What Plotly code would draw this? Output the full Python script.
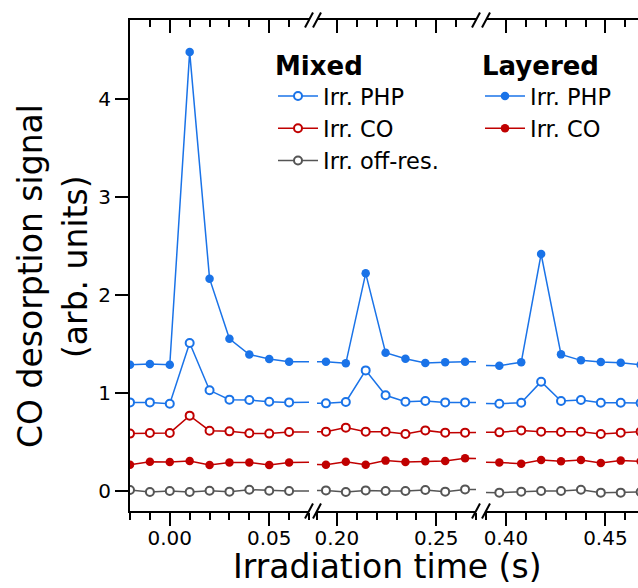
import plotly.graph_objects as go

# ---- data ----
time_seg1 = [-0.02, -0.01, 0.00, 0.01, 0.02, 0.03, 0.04, 0.05, 0.06]
time_seg2 = [0.1945, 0.2045, 0.2145, 0.2245, 0.2345, 0.2445, 0.2545, 0.2645]
time_seg3 = [0.3967, 0.4077, 0.4177, 0.4277, 0.4377, 0.4477, 0.4577, 0.4677]

mixed_php = [0.906, 0.906, 0.893, 1.511, 1.029, 0.934, 0.930, 0.913, 0.906,
             0.896, 0.910, 1.232, 0.978, 0.913, 0.920, 0.906, 0.906,
             0.893, 0.903, 1.117, 0.920, 0.930, 0.903, 0.903, 0.900]
mixed_co = [0.588, 0.595, 0.595, 0.771, 0.618, 0.611, 0.591, 0.588, 0.605,
            0.608, 0.649, 0.608, 0.608, 0.584, 0.621, 0.598, 0.598,
            0.601, 0.621, 0.608, 0.605, 0.608, 0.584, 0.598, 0.608]
mixed_offres = [0.014, -0.006, 0.004, -0.006, 0.007, -0.003, 0.017, 0.007, 0.004,
                0.010, -0.006, 0.010, 0.004, 0.004, 0.014, -0.003, 0.020,
                -0.013, -0.003, 0.004, 0.004, 0.017, -0.013, -0.013, -0.006]
layered_php = [1.290, 1.297, 1.290, 4.475, 2.166, 1.553, 1.394, 1.347, 1.320,
               1.321, 1.304, 2.220, 1.412, 1.351, 1.307, 1.314, 1.321,
               1.280, 1.314, 2.417, 1.395, 1.334, 1.317, 1.310, 1.290]
layered_co = [0.272, 0.302, 0.299, 0.309, 0.269, 0.295, 0.295, 0.269, 0.295,
              0.272, 0.302, 0.272, 0.313, 0.299, 0.306, 0.309, 0.336,
              0.295, 0.282, 0.320, 0.306, 0.320, 0.289, 0.313, 0.306]

x_ranges = [[-0.02, 0.07], [0.19, 0.27], [0.39, 0.46638]]
y_range = [-0.2, 4.8]
y_ticks = [0, 1, 2, 3, 4]

BLUE = "#1a73e8"
RED = "#c00000"
GRAY = "#555555"
FONT = "DejaVu Sans"

# ---- layout geometry ----
W, H = 638, 588
L, R, T, B = 130, 0, 20, 77
PW = W - L - R
PH = H - T - B


def px(x):
    return (x - L) / PW


def py(y):
    return (H - B - y) / PH


domains = [[0.0, px(309)], [px(317), px(476)], [px(486), 1.0]]

time_all = time_seg1 + time_seg2 + time_seg3

series = [
    # name, values, color, open, legend
    ("Irr. PHP", mixed_php, BLUE, True, "legend"),
    ("Irr. CO", mixed_co, RED, True, "legend"),
    ("Irr. off-res.", mixed_offres, GRAY, True, "legend"),
    ("Irr. PHP", layered_php, BLUE, False, "legend2"),
    ("Irr. CO", layered_co, RED, False, "legend2"),
]

fig = go.Figure()
axis_ids = ["x", "x2", "x3"]
top_ids = ["x4", "x5", "x6"]

# empty traces so the top (inward-tick) axes get drawn
for ax in top_ids:
    fig.add_trace(go.Scatter(x=[], y=[], xaxis=ax, yaxis="y",
                             showlegend=False, hoverinfo="skip"))

for name, vals, color, is_open, leg in series:
    for k, ax in enumerate(axis_ids):
        if is_open:
            marker = dict(symbol="circle", size=8, color="white",
                          line=dict(color=color, width=2))
        else:
            marker = dict(symbol="circle", size=8.5, color=color,
                          line=dict(width=0))
        fig.add_trace(go.Scatter(
            x=time_all, y=vals, mode="lines+markers", name=name,
            line=dict(color=color, width=1.5), marker=marker,
            xaxis=ax, yaxis="y", legend=leg, showlegend=(k == 0),
        ))

tick_common = dict(
    showline=True, linecolor="black", linewidth=2,
    ticks="outside", ticklen=13, tickwidth=2, tickcolor="black",
    tickfont=dict(family=FONT, size=20, color="black"),
    showgrid=False, zeroline=False,
)

layout_axes = {}
for k in range(3):
    key = "xaxis" if k == 0 else f"xaxis{k + 1}"
    layout_axes[key] = dict(
        tick_common, domain=domains[k], range=x_ranges[k], anchor="y",
        tick0=0, dtick=0.05, tickformat=".2f", ticklabelstandoff=-5,
        minor=dict(ticks="outside", ticklen=7, tickwidth=2, tickcolor="black",
                   tick0=0, dtick=0.01, showgrid=False),
    )
    # top axis copy with inward ticks
    topkey = f"xaxis{k + 4}"
    layout_axes[topkey] = dict(
        showline=True, linecolor="black", linewidth=2,
        ticks="inside", ticklen=13, tickwidth=2, tickcolor="black",
        showticklabels=False, showgrid=False, zeroline=False,
        overlaying=axis_ids[k], side="top", anchor="y",
        range=x_ranges[k], tick0=0, dtick=0.05,
        minor=dict(ticks="inside", ticklen=7, tickwidth=2, tickcolor="black",
                   tick0=0, dtick=0.01, showgrid=False),
    )

layout_axes["yaxis"] = dict(
    tick_common, domain=[0, 1], range=y_range, anchor="x",
    tickvals=y_ticks, ticktext=[str(v) for v in y_ticks],
)

# break marks
shapes = []
break_pos = [px(309), px(317), px(476), px(486)]
for xb in break_pos:
    for yb in [0, 1]:
        shapes.append(dict(
            type="line", xref="paper", yref="paper",
            xsizemode="pixel", ysizemode="pixel",
            xanchor=xb, yanchor=yb,
            x0=-4, x1=4, y0=-7.5, y1=7.5,
            line=dict(color="black", width=2),
        ))

annotations = [
    dict(text="Irradiation time (s)", xref="paper", yref="paper",
         x=px(387), y=py(566), xanchor="center", yanchor="middle",
         showarrow=False, font=dict(family=FONT, size=33, color="black")),
    dict(text="CO desorption signal", xref="paper", yref="paper",
         x=px(30), y=py(276), xanchor="center", yanchor="middle", textangle=-90,
         showarrow=False, font=dict(family=FONT, size=33, color="black")),
    dict(text="(arb. units)", xref="paper", yref="paper",
         x=px(75), y=py(267), xanchor="center", yanchor="middle", textangle=-90,
         showarrow=False, font=dict(family=FONT, size=33, color="black")),
]

legend_common = dict(
    bgcolor="rgba(0,0,0,0)", borderwidth=0,
    font=dict(family=FONT, size=22.5, color="black"),
    yanchor="top", xanchor="left", itemwidth=40,
)

fig.update_layout(
    width=W, height=H,
    margin=dict(l=L, r=R, t=T, b=B, pad=0),
    paper_bgcolor="white", plot_bgcolor="white",
    font=dict(family=FONT, color="black"),
    shapes=shapes, annotations=annotations,
    legend=dict(legend_common, x=px(273), y=py(41),
                title=dict(text="<b>Mixed</b>", font=dict(family=FONT, size=26))),
    legend2=dict(legend_common, x=px(480), y=py(41),
                 title=dict(text="<b>Layered</b>", font=dict(family=FONT, size=26))),
    **layout_axes,
)

fig.write_html("out.html")
